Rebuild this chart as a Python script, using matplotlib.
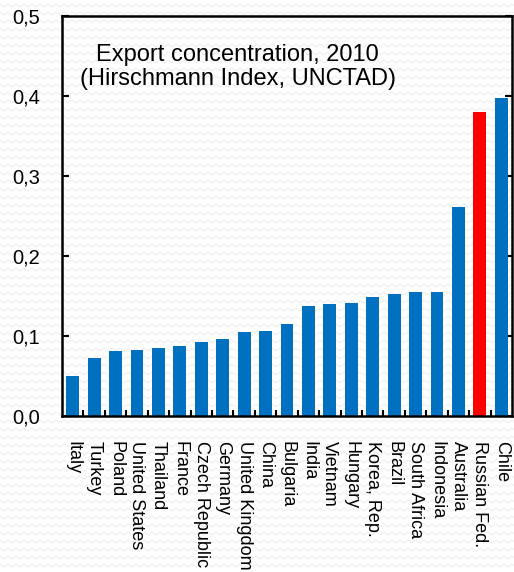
import numpy as np
import matplotlib.pyplot as plt
from matplotlib.ticker import FixedLocator, FuncFormatter
from matplotlib.lines import Line2D

plt.rcParams['font.family'] = ['Liberation Sans', 'DejaVu Sans']

countries = ['Italy', 'Turkey', 'Poland', 'United States', 'Thailand', 'France',
             'Czech Republic', 'Germany', 'United Kingdom', 'China', 'Bulgaria',
             'India', 'Vietnam', 'Hungary', 'Korea, Rep.', 'Brazil', 'South Africa',
             'Indonesia', 'Australia', 'Russian Fed.', 'Chile']
hhi = [0.050, 0.073, 0.081, 0.082, 0.085, 0.0875, 0.093, 0.096, 0.105, 0.106,
       0.115, 0.138, 0.140, 0.141, 0.149, 0.152, 0.155, 0.155, 0.261, 0.380, 0.397]
highlight = 'Russian Fed.'

fig = plt.figure(figsize=(5.14, 5.72), dpi=100)

# faint zigzag wallpaper behind everything
W, H = 514, 572
for y0 in np.arange(4, H, 8):
    xs = np.arange(-4, W + 8, 4)
    ys = y0 + np.where((xs // 4) % 2 == 0, 0, 3)
    fig.add_artist(Line2D(xs / W, 1 - ys / H, transform=fig.transFigure,
                          color='#efefef', lw=0.8, zorder=-10))

ax = fig.add_axes([62 / W, 1 - 416 / H, 450 / W, 400 / H])
ax.patch.set_alpha(0)

x = np.arange(len(countries))
colors = ['#ff0000' if c == highlight else '#0070c0' for c in countries]
ax.bar(x, hhi, width=0.6, color=colors, zorder=2)

ax.set_xlim(-0.5, len(countries) - 0.5)
ax.set_ylim(0, 0.5)

ax.set_yticks(np.arange(0, 0.51, 0.1))
ax.yaxis.set_major_formatter(FuncFormatter(lambda v, p: f'{v:.1f}'.replace('.', ',')))
ax.tick_params(axis='y', direction='in', length=5, width=1.5, labelsize=14.5,
               pad=16, right=True)

ax.set_xticks(x)
ax.set_xticklabels(countries, rotation=270, fontsize=13, va='top', ha='center')
ax.xaxis.set_minor_locator(FixedLocator(np.arange(0.5, len(countries) - 0.5, 1)))
ax.tick_params(axis='x', which='major', length=0, pad=18)
ax.tick_params(axis='x', which='minor', direction='in', length=4, width=1.5)

for s in ax.spines.values():
    s.set_linewidth(1.8)

ax.text(0.39, 0.872, 'Export concentration, 2010\n(Hirschmann Index, UNCTAD)',
        transform=ax.transAxes, ha='center', va='center', fontsize=17,
        linespacing=1.1)

fig.savefig('out.png', dpi=100)
